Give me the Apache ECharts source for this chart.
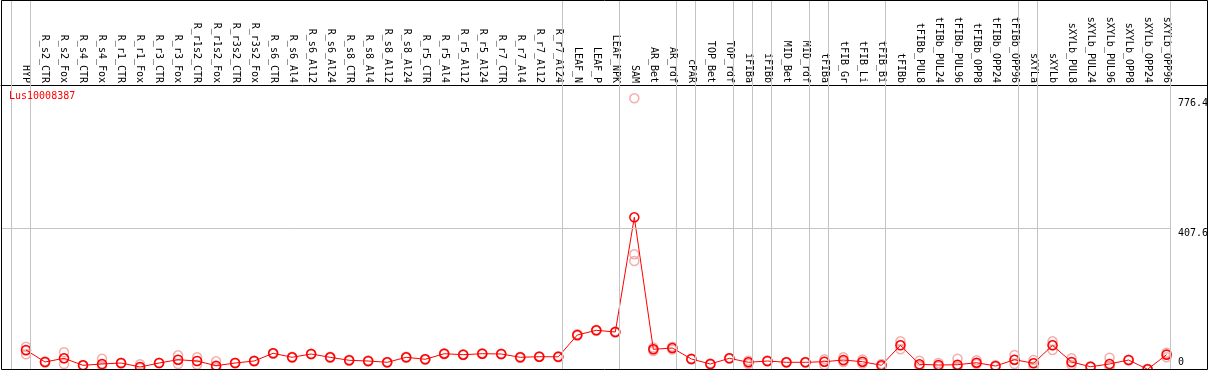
<!DOCTYPE html>
<html>
<head>
<meta charset="utf-8">
<script src="https://cdn.jsdelivr.net/npm/echarts@6/dist/echarts.min.js"></script>
<style>
  html, body { margin: 0; padding: 0; background: #fff; }
  #main { width: 1209px; height: 370px; }
</style>
</head>
<body>
<div id="main"></div>
<script>
// 样本名称
var categories = [
    "HYP", "R_s2_CTR", "R_s2_Fox", "R_s4_CTR", "R_s4_Fox", "R_r1_CTR", "R_r1_Fox", "R_r3_CTR", "R_r3_Fox",
    "R_r1s2_CTR", "R_r1s2_Fox", "R_r3s2_CTR", "R_r3s2_Fox", "R_s6_CTR", "R_s6_Al4", "R_s6_Al12", "R_s6_Al24",
    "R_s8_CTR", "R_s8_Al4", "R_s8_Al12", "R_s8_Al24", "R_r5_CTR", "R_r5_Al4", "R_r5_Al12", "R_r5_Al24",
    "R_r7_CTR", "R_r7_Al4", "R_r7_Al12", "R_r7_Al24", "LEAF_N", "LEAF_P", "LEAF_NPK", "SAM", "AR_Bet", "AR_rdf",
    "cPAR", "TOP_Bet", "TOP_rdf", "iFIBa", "iFIBb", "MID_Bet", "MID_rdf", "tFIBa", "tFIB_Gr", "tFIB_Li", "tFIB_Bi",
    "tFIBb", "tFIBb_PUL8", "tFIBb_PUL24", "tFIBb_PUL96", "tFIBb_OPP8", "tFIBb_OPP24", "tFIBb_OPP96",
    "sXYLa", "sXYLb", "sXYLb_PUL8", "sXYLb_PUL24", "sXYLb_PUL96", "sXYLb_OPP8", "sXYLb_OPP24", "sXYLb_OPP96"
];

// 平均值 (红线)
var meanValues = [
    62.4, 28.4, 38.9, 19.0, 22.7, 25.5, 14.2, 25.5, 34.9, 31.2, 17.9, 25.5, 31.2, 53.1, 41.7, 51.1, 41.7,
    33.2, 31.2, 27.5, 41.7, 36.0, 51.9, 49.1, 51.9, 51.1, 41.7, 43.4, 43.0, 105.0, 118.3, 113.5, 438.9, 64.4, 68.1,
    36.9, 22.7, 38.9, 27.5, 31.2, 27.5, 27.5, 29.2, 34.0, 29.2, 19.0, 75.7, 21.8, 19.9, 20.7, 26.4, 17.0, 34.9,
    24.7, 75.7, 28.4, 15.0, 22.7, 34.0, 7.7, 49.1
];

// 重复样本 (浅色圆圈)
var repA = [
    71.8, 27.0, 55.9, 18.0, 37.7, 25.0, 21.8, 25.0, 47.4, 41.7, 30.4, 24.5, 30.0, 52.0, 40.5, 50.0, 43.0,
    32.0, 30.0, 28.5, 40.5, 37.0, 50.5, 48.0, 53.0, 50.0, 40.5, 44.5, 44.5, 103.0, 117.0, 112.0, 776.4, 69.5, 71.5,
    38.0, 21.5, 40.0, 32.0, 30.0, 26.5, 28.5, 36.0, 41.7, 35.5, 22.7, 87.1, 32.0, 25.5, 37.7, 33.2, 17.0, 48.2,
    34.0, 87.1, 38.9, 14.0, 40.6, 33.0, 8.0, 54.8
];
var repB = [
    50.2, 30.0, 22.7, 20.0, 21.3, 26.0, 14.0, 26.0, 22.7, 20.7, 14.2, 26.5, 32.5, 54.0, 43.0, 52.0, 40.5,
    34.5, 32.5, 26.5, 43.0, 35.0, 53.0, 50.0, 51.0, 52.0, 43.0, 42.5, 41.5, 107.0, 119.5, 115.0, 333.9, 59.6, 63.8,
    36.0, 24.0, 38.0, 22.7, 32.5, 28.5, 26.5, 19.9, 31.2, 24.1, 17.0, 64.4, 17.0, 15.6, 14.2, 22.7, 15.0, 22.7,
    15.0, 62.4, 19.9, 16.0, 17.0, 35.0, 7.0, 41.7
];
var repC = [
    60.4, 28.4, 38.9, 19.5, 17.0, 24.0, 11.3, 25.5, 34.0, 31.2, 11.0, 25.5, 31.2, 53.1, 41.7, 51.1, 41.7,
    33.2, 31.2, 27.5, 41.7, 36.0, 51.9, 49.1, 51.9, 51.1, 41.7, 43.4, 43.0, 105.0, 118.3, 113.5, 314.9, 65.0, 68.0,
    36.9, 22.7, 38.9, 28.0, 31.2, 27.5, 27.5, 29.0, 28.4, 28.0, 15.6, 76.6, 17.0, 17.0, 17.0, 25.5, 19.0, 34.0,
    25.5, 76.6, 27.0, 15.0, 15.6, 34.0, 9.0, 51.1
];

// 分组竖线所在的样本序号 (画在该样本左侧)
var groupStarts = [0, 1, 29, 32, 35, 36, 38, 39, 40, 42, 43, 46, 53, 54, 61];

// y 轴刻度
var yTickValues = [0, 407.6, 776.4];
var yTickLabels = ["0", "407.6", "776.4"];
var geneName = "Lus10008387";

var FONT = "DejaVu Sans Mono";
var xMin = -1.315, xMax = 62.125;
var yMax = 1055.3;

var mainData = [];
var repData = [];
var xIdx = [];
for (var i = 0; i < categories.length; i++) {
    xIdx.push(i);
    mainData.push([i, meanValues[i]]);
    repData.push([i, repA[i]]);
    repData.push([i, repB[i]]);
    repData.push([i, repC[i]]);
}

var lines = [];
for (var j = 0; j < groupStarts.length; j++) {
    lines.push({ xAxis: groupStarts[j] - 0.79 });
}
lines.push([
    { coord: [xMin, yTickValues[1]] },
    { coord: [groupStarts[groupStarts.length - 1] - 0.79, yTickValues[1]] }
]);

var myChart = echarts.init(document.getElementById('main'));
var option = {
    animation: false,
    backgroundColor: '#fff',
    title: {
        text: geneName,
        left: 9,
        top: 91,
        padding: 0,
        textStyle: { color: '#ff0000', fontSize: 10, fontWeight: 'normal', fontFamily: FONT }
    },
    grid: {
        left: 1,
        top: 0,
        width: 1206,
        height: 372,
        containLabel: false,
        outerBoundsMode: 'none'
    },
    xAxis: {
        type: 'value',
        min: xMin,
        max: xMax,
        position: 'top',
        offset: -85,
        axisLine: { show: true, onZero: false, lineStyle: { color: '#000', width: 1 } },
        axisTick: { show: false },
        splitLine: { show: false },
        axisLabel: {
            customValues: xIdx,
            rotate: 90,
            margin: 2,
            color: '#000',
            fontSize: 10,
            fontFamily: FONT,
            formatter: function(v) { return categories[Math.round(v)]; }
        }
    },
    yAxis: [{
        type: 'value',
        min: 0,
        max: yMax,
        position: 'right',
        offset: -30,
        axisLine: { show: false, onZero: false },
        axisTick: { show: false },
        splitLine: { show: false },
        axisLabel: {
            customValues: yTickValues.slice(1),
            verticalAlign: 'top',
            margin: 1,
            color: '#000',
            fontSize: 10,
            fontFamily: FONT,
            formatter: function(v) { return yTickLabels[yTickValues.indexOf(v)]; }
        }
    }, {
        type: 'value',
        min: 0,
        max: yMax,
        position: 'right',
        offset: -30,
        axisLine: { show: false, onZero: false },
        axisTick: { show: false },
        splitLine: { show: false },
        axisLabel: {
            customValues: [yTickValues[0]],
            verticalAlign: 'bottom',
            padding: [0, 0, 5, 0],
            margin: 1,
            color: '#000',
            fontSize: 10,
            fontFamily: FONT,
            formatter: function(v) { return yTickLabels[0]; }
        }
    }],
    series: [{
        type: 'scatter',
        silent: true,
        data: repData,
        symbol: 'circle',
        symbolSize: 9,
        itemStyle: { color: 'rgba(0,0,0,0)', borderColor: '#f09a9a', borderWidth: 1.5 },
        z: 2,
        markLine: {
            silent: true,
            symbol: 'none',
            label: { show: false },
            lineStyle: { color: '#c4c4c4', width: 1, type: 'solid' },
            data: lines
        }
    }, {
        type: 'line',
        silent: true,
        data: mainData,
        symbol: 'circle',
        symbolSize: 9,
        showAllSymbol: true,
        lineStyle: { color: '#ff0000', width: 1 },
        itemStyle: { color: 'rgba(0,0,0,0)', borderColor: '#ff0000', borderWidth: 1.5 },
        z: 3
    }],
    graphic: [{
        type: 'rect',
        silent: true,
        z: 100,
        shape: { x: 1.5, y: 0.5, width: 1206, height: 369 },
        style: { fill: 'none', stroke: '#000', lineWidth: 1 }
    }]
};
myChart.setOption(option);
</script>
</body>
</html>
